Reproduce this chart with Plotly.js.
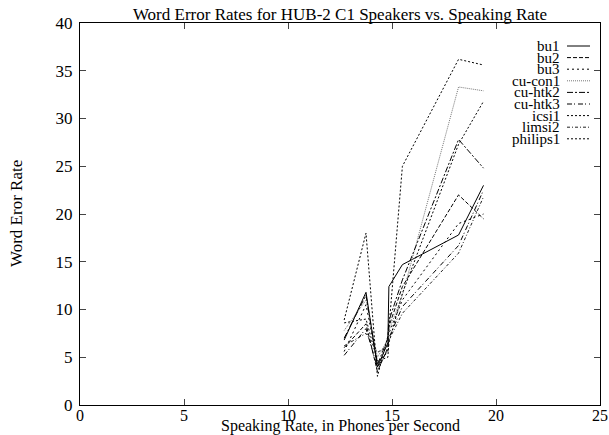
<!DOCTYPE html>
<html>
<head>
<meta charset="utf-8">
<script src="https://cdn.plot.ly/plotly-3.0.1.min.js"></script>
<style>html,body{margin:0;padding:0;background:#fff;}#chart{width:609px;height:435px;}</style>
</head>
<body>
<div id="chart"></div>
<script>
// Speaking rate (phones per second) for each speaker point
const rates = [12.7, 13.75, 14.3, 14.8, 14.85, 15.5, 18.2, 19.4];

const seriesNames = ["bu1", "bu2", "bu3", "cu-con1", "cu-htk2", "cu-htk3", "icsi1", "limsi2", "philips1"];

const bu1      = [6.8, 11.8, 4.0, 6.5, 12.4, 14.7, 17.8, 23.0];
const bu2      = [6.0, 8.5, 3.5, 6.0, 8.2, 12.4, 22.0, 19.5];
const bu3      = [5.6, 10.5, 4.5, 5.5, 7.5, 11.0, 19.0, 20.0];
const cucon1   = [7.8, 11.0, 5.0, 6.8, 7.8, 11.5, 33.3, 32.9];
const cuhtk2   = [7.0, 11.5, 4.2, 7.0, 8.8, 13.1, 27.8, 24.8];
const cuhtk3   = [5.2, 8.0, 3.9, 5.8, 7.0, 10.3, 16.7, 22.5];
const icsi1    = [8.6, 9.0, 4.6, 5.0, 6.5, 11.7, 27.3, 31.8];
const limsi2   = [6.2, 7.5, 5.5, 6.2, 6.8, 9.6, 15.9, 21.8];
const philips1 = [8.9, 18.0, 3.0, 7.2, 8.0, 25.0, 36.2, 35.6];

const seriesValues = [bu1, bu2, bu3, cucon1, cuhtk2, cuhtk3, icsi1, limsi2, philips1];

const xTicks = [0, 5, 10, 15, 20, 25];
const yTicks = [0, 5, 10, 15, 20, 25, 30, 35, 40];

const titleText = "Word Error Rates for HUB-2 C1 Speakers vs. Speaking Rate";
const xTitleText = "Speaking Rate, in Phones per Second";
const yTitleText = "Word Eror Rate";

const dashes = ["solid", "4px,2px", "2px,3px", "1px,1px", "6px,2px,2px,2px", "5px,2px,1px,3px", "2px,2px", "3px,2px,1px,2px", "2px,2px"];
const colors = ["#000", "#000", "#000", "#777", "#000", "#000", "#000", "#222", "#000"];

const fontFam = "Liberation Serif, Times New Roman, serif";
const plotH = 382, plotW = 520;

const traces = seriesNames.map((n, i) => ({
  type: "scatter", mode: "lines", name: n,
  x: rates, y: seriesValues[i],
  line: {color: colors[i], width: 1, dash: dashes[i]},
  showlegend: false
}));

// gnuplot-style key: right-aligned text with line sample on the right
const annotations = [];
const shapes = [];
const keyTop = 1 - (46 - 23) / plotH;
const keyStep = 11.6 / plotH;
seriesNames.forEach((n, i) => {
  const yy = keyTop - i * keyStep;
  annotations.push({
    xref: "paper", yref: "paper", x: (562 - 80) / plotW, y: yy,
    xanchor: "right", yanchor: "middle", text: n, showarrow: false,
    font: {family: fontFam, size: 15, color: "#000"}
  });
  shapes.push({
    type: "line", xref: "paper", yref: "paper",
    x0: (567 - 80) / plotW, x1: (590 - 80) / plotW, y0: yy, y1: yy,
    line: {color: colors[i], width: 1, dash: dashes[i]}
  });
});

// axis titles placed like gnuplot (close to the tick labels)
annotations.push({
  xref: "paper", yref: "paper", x: 0.5, y: -(426 - 405) / plotH,
  xanchor: "center", yanchor: "middle", text: xTitleText, showarrow: false,
  font: {family: fontFam, size: 16, color: "#000"}
});
annotations.push({
  xref: "paper", yref: "paper", x: -(80 - 16) / plotW, y: 0.5,
  xanchor: "center", yanchor: "middle", text: yTitleText, showarrow: false, textangle: -90,
  font: {family: fontFam, size: 17, color: "#000"}
});

const layout = {
  width: 609, height: 435,
  margin: {l: 80, r: 9, t: 23, b: 30},
  paper_bgcolor: "#fff", plot_bgcolor: "#fff",
  font: {family: fontFam, size: 17, color: "#000"},
  title: {text: titleText,
          font: {family: fontFam, size: 17}, x: 0.5, xref: "paper", xanchor: "center",
          y: 1 - 14 / 435, yref: "container", yanchor: "middle"},
  xaxis: {range: [0, 25], tickvals: xTicks, ticks: "inside", ticklen: 6,
          showline: true, mirror: "ticks", linecolor: "#000", linewidth: 1,
          showgrid: false, zeroline: false, tickfont: {size: 16}, ticklabelstandoff: -4},
  yaxis: {range: [0, 40], tickvals: yTicks, ticks: "inside", ticklen: 6,
          showline: true, mirror: "ticks", linecolor: "#000", linewidth: 1,
          showgrid: false, zeroline: false, tickfont: {size: 17}, ticklabelstandoff: 3},
  annotations: annotations,
  shapes: shapes,
  showlegend: false
};

Plotly.newPlot("chart", traces, layout, {displayModeBar: false, staticPlot: true});
</script>
</body>
</html>
